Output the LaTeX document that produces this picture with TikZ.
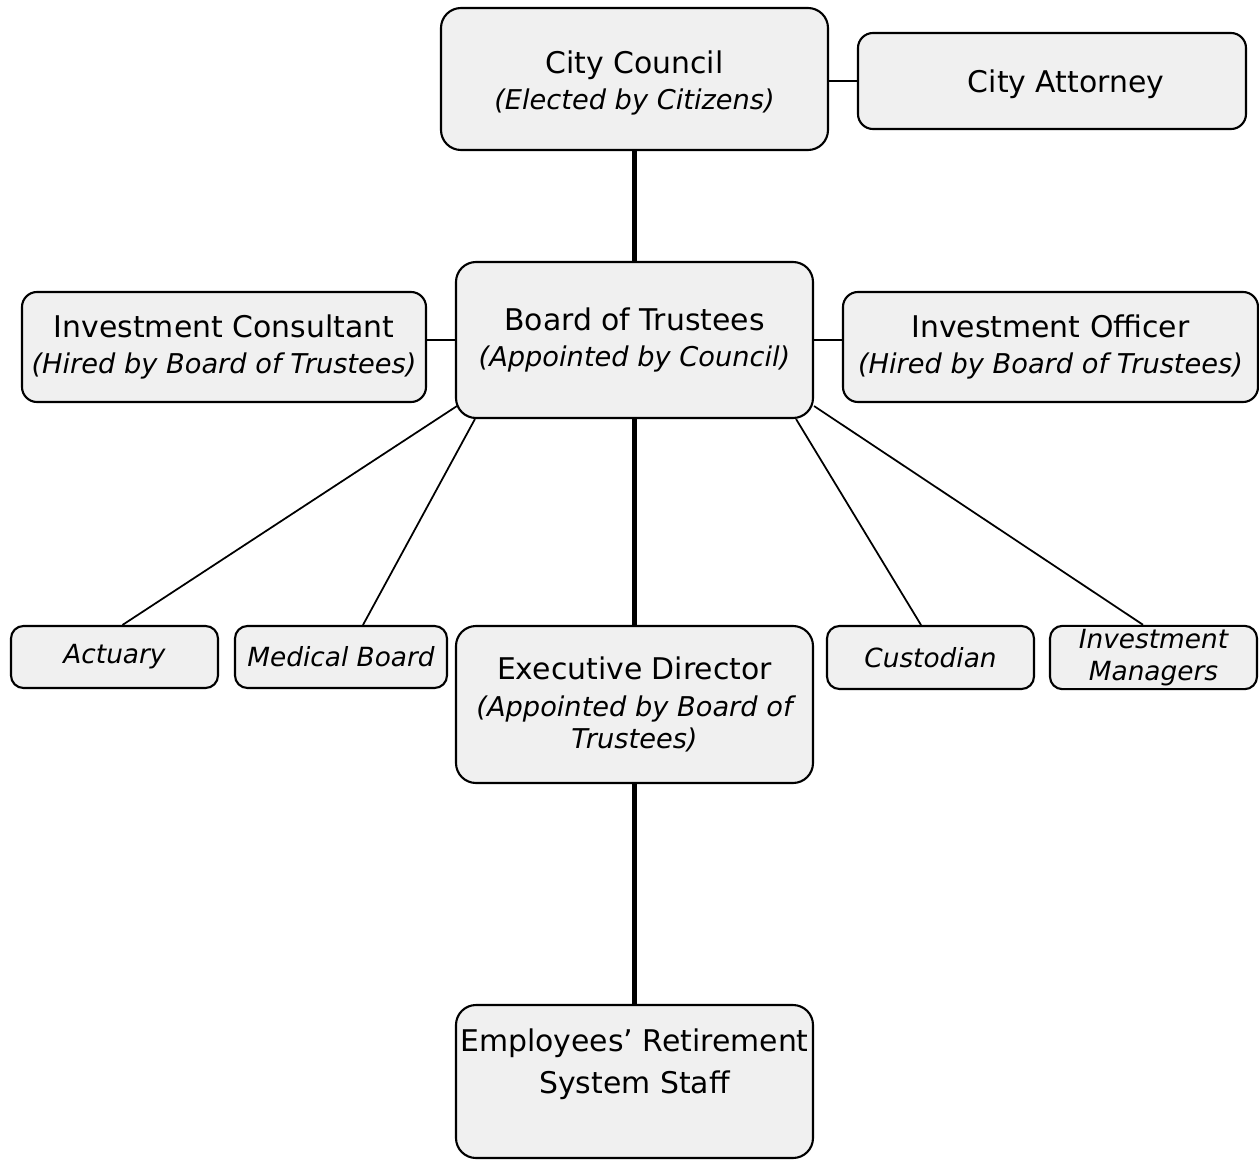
\documentclass[tikz,border=0pt]{standalone}
\usepackage{fontspec}
\setmainfont{DejaVu Sans}
\usetikzlibrary{calc}

\def\px{0.02cm}
\newcommand{\subline}[1]{{\fontsize{15.5}{18}\selectfont\itshape #1}}

\begin{document}
\begin{tikzpicture}[x=\px,y=-\px]
    \tikzstyle{unit}=[draw=black,line width=1.2pt,fill=black!6,rounded corners=0.4cm,align=center,inner sep=2pt,font=\fontsize{17}{21}\selectfont]
    \tikzstyle{small unit}=[unit,rounded corners=0.25cm,font=\fontsize{15}{18}\selectfont\itshape]
    \tikzstyle{strong link}=[line width=3.4pt]
    \tikzstyle{weak link}=[line width=1pt]

    \useasboundingbox (0,0) rectangle (1259,1160);

    % Council and its attorney
    \node[unit,minimum width=387*\px,minimum height=142*\px] (council) at (634.5,79) {\rule{0pt}{17.5pt}City Council\\\subline{(Elected by Citizens)}};
    \node[unit,rounded corners=0.3cm,minimum width=388*\px,minimum height=96*\px] (attorney) at (1052,81) {\hspace*{16pt}\rule{0pt}{17pt}City Attorney};

    % The board row
    \node[unit,minimum width=357*\px,minimum height=156*\px] (board) at (634.5,340) {Board of Trustees\\\subline{(Appointed by Council)}};
    \node[unit,rounded corners=0.3cm,minimum width=404*\px,minimum height=110*\px] (consultant) at (224,347) {Investment Consultant\\\subline{(Hired by Board of Trustees)}};
    \node[unit,rounded corners=0.3cm,minimum width=415*\px,minimum height=110*\px] (officer) at (1050.5,347) {Investment Officer\\\subline{(Hired by Board of Trustees)}};

    % Services hired by the board
    \node[small unit,minimum width=207*\px,minimum height=62*\px] (actuary) at (114.5,657) {Actuary};
    \node[small unit,minimum width=212*\px,minimum height=62*\px] (medical) at (341,657) {Medical Board};
    \node[small unit,minimum width=207*\px,minimum height=63*\px] (custodian) at (930.5,657.5) {Custodian};
    \node[small unit,minimum width=207*\px,minimum height=63*\px] (managers) at (1153.5,657.5) {Investment\\Managers};

    % Director and staff
    \node[unit,minimum width=357*\px,minimum height=157*\px] (director) at (634.5,704.5) {Executive Director\\\subline{(Appointed by Board of}\\[-3pt]\subline{Trustees)}};
    \node[unit,minimum width=357*\px,minimum height=153*\px] (staff) at (634.5,1081.5) {Employees’ Retirement\\[3pt]System Staff\rule[-23pt]{0pt}{23pt}};

    % Lines of authority
    \draw[strong link] (council.south) -- (board.north);
    \draw[strong link] (board.south) -- (director.north);
    \draw[strong link] (director.south) -- (staff.north);

    % Side links
    \draw[weak link] (attorney.west -| council.east) -- (attorney.west);
    \draw[weak link] (board.west) -- (board.west -| consultant.east);
    \draw[weak link] (board.east) -- (board.east -| officer.west);

    % Diagonal links to the hired services
    \draw[weak link] ($(board.south west)+(2,-13)$) -- ($(actuary.north)+(8,0)$);
    \draw[weak link] ($(board.south west)+(20,0)$) -- ($(medical.north)+(22,0)$);
    \draw[weak link] ($(board.south east)+(-18,0)$) -- ($(custodian.north)+(-9.5,0)$);
    \draw[weak link] ($(board.south east)+(0,-13)$) -- ($(managers.north)+(-10.5,0)$);
\end{tikzpicture}
\end{document}
